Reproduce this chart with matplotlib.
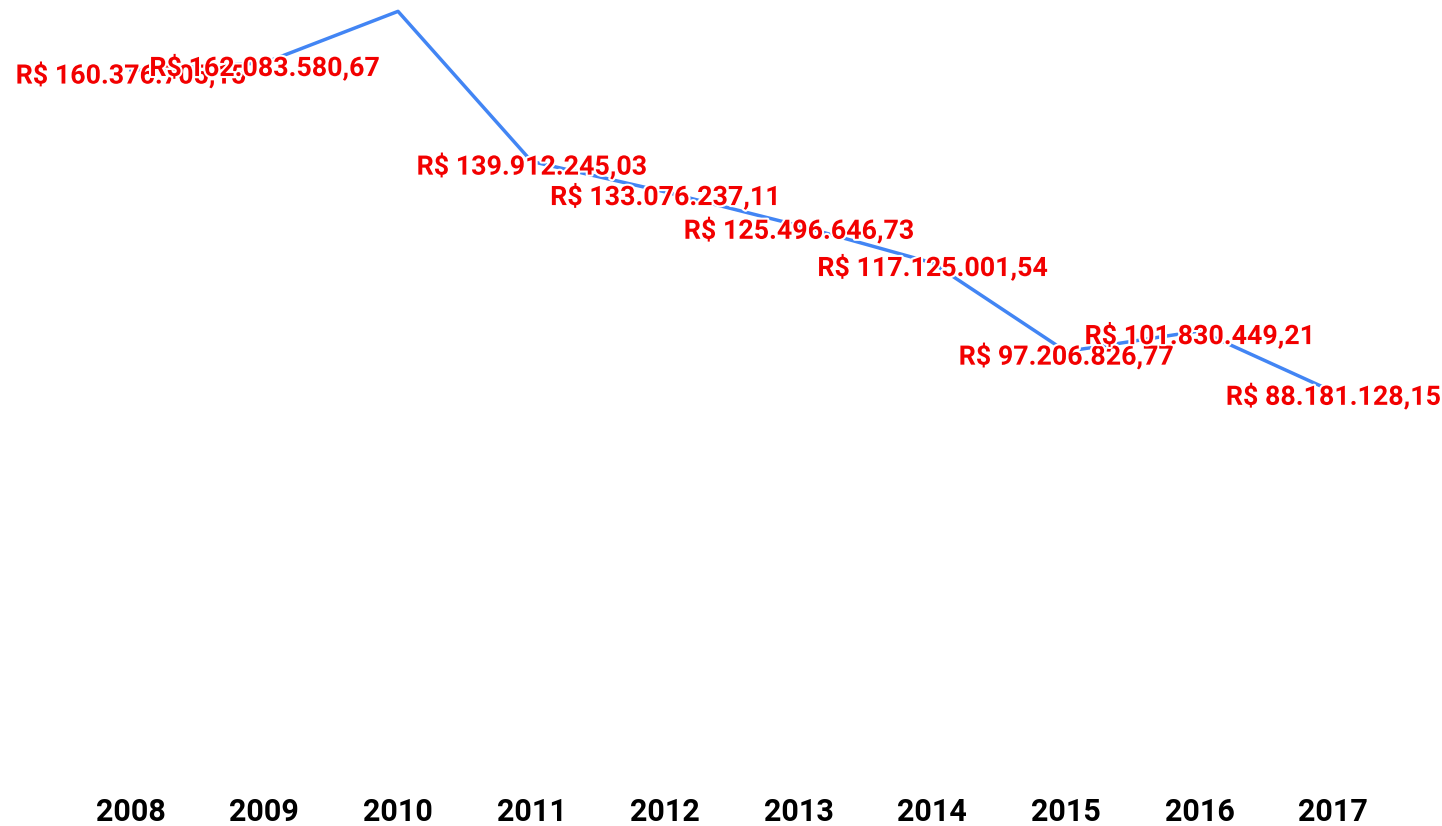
import matplotlib
matplotlib.use("Agg")
import matplotlib.pyplot as plt
import matplotlib.patheffects as pe

# Data
years = ["2008", "2009", "2010", "2011", "2012", "2013", "2014", "2015", "2016", "2017"]
values = [160376705.15, 162083580.67, 173650000.00, 139912245.03, 133076237.11,
          125496646.73, 117125001.54, 97206826.77, 101830449.21, 88181128.15]
# the 2010 label falls off the top in the original, so it is not shown
hidden_labels = ["2010"]


def brl(v):
    s = f"{v:,.2f}"
    s = s.replace(",", "X").replace(".", ",").replace("X", ".")
    return "R$ " + s


plt.rcParams["font.family"] = ["Roboto", "DejaVu Sans"]

fig = plt.figure(figsize=(14.42, 8.26), dpi=100)
ax = fig.add_axes([0.0444, 0.0508, 0.9265, 0.9492])

x = list(range(len(years)))
ax.plot(x, values, color="#4285F4", linewidth=2.5, solid_capstyle="round",
        clip_on=False, zorder=2)

for xi, yr, v in zip(x, years, values):
    if yr in hidden_labels:
        continue
    ax.annotate(brl(v), (xi, v), xytext=(0, -5), textcoords="offset pixels",
                ha="center", va="center", color="#F20000",
                fontsize=19.3, fontweight="bold", zorder=3,
                path_effects=[pe.withStroke(linewidth=3, foreground="white")])

ax.set_xlim(-0.5, len(years) - 0.5)
ax.set_ylim(0, 176.2e6)
ax.set_xticks(x)
ax.set_xticklabels(years, fontsize=22, fontweight="bold", color="#000000")
ax.tick_params(axis="x", length=0, pad=9)
ax.set_yticks([])
for s in ax.spines.values():
    s.set_visible(False)

fig.savefig("out.png", dpi=100, facecolor="white")
